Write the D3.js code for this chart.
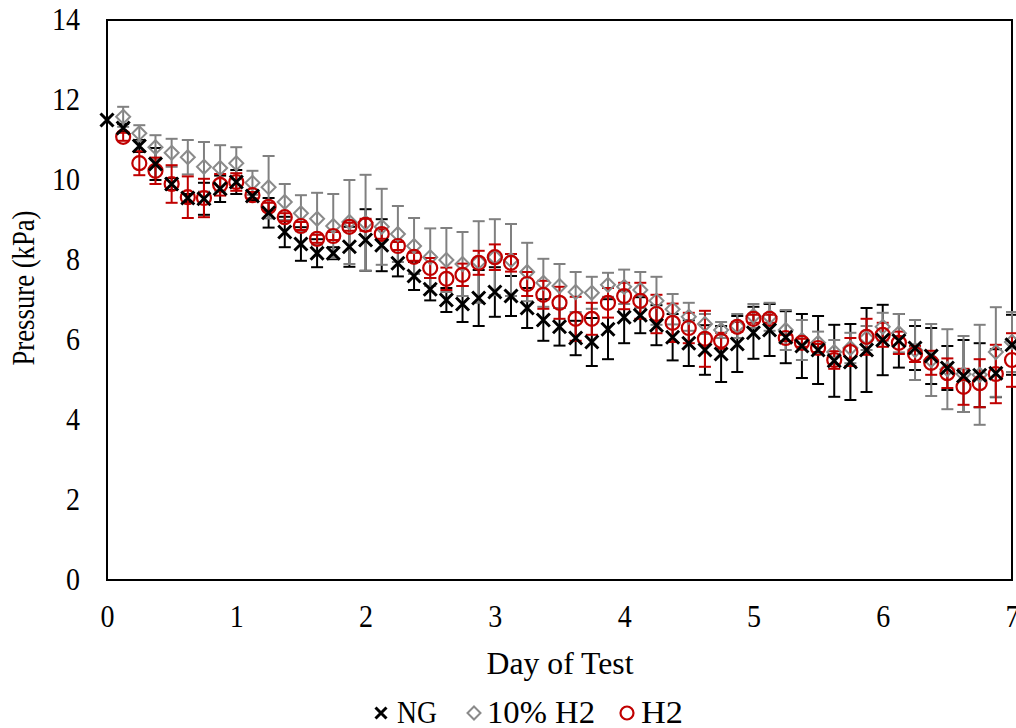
<!DOCTYPE html>
<html><head><meta charset="utf-8">
<script src="https://cdn.jsdelivr.net/npm/d3@7"></script>
<style>body{margin:0;background:#fff}svg{display:block}svg text{font-family:"Liberation Serif","Times New Roman","DejaVu Serif",serif !important;fill:#000}</style>
</head><body>
<svg id="chart" width="1016" height="728"></svg>
<script>
const days = [0,0.125,0.25,0.375,0.5,0.625,0.75,0.875,1,1.125,1.25,1.375,1.5,1.625,1.75,1.875,2,2.125,2.25,2.375,2.5,2.625,2.75,2.875,3,3.125,3.25,3.375,3.5,3.625,3.75,3.875,4,4.125,4.25,4.375,4.5,4.625,4.75,4.875,5,5.125,5.25,5.375,5.5,5.625,5.75,5.875,6,6.125,6.25,6.375,6.5,6.625,6.75,6.875,7];
const ngValues = [11.5,11.3,10.85,10.4,9.9,9.55,9.53,9.78,9.95,9.6,9.18,8.7,8.4,8.17,8.17,8.33,8.5,8.37,7.92,7.6,7.27,7.0,6.9,7.05,7.2,7.1,6.8,6.5,6.33,6.05,5.95,6.27,6.57,6.62,6.37,6.07,5.92,5.75,5.65,5.9,6.18,6.25,6.07,5.85,5.75,5.48,5.45,5.75,6.0,5.98,5.8,5.6,5.3,5.1,5.12,5.17,5.88];
const ngErr = [0,0.1,0.15,0.4,0.15,0.1,0.4,0.33,0.3,0.1,0.37,0.38,0.42,0.35,0.15,0.5,0.77,0.65,0.33,0.35,0.28,0.3,0.45,0.7,0.62,0.5,0.5,0.52,0.47,0.43,0.6,0.75,0.65,0.45,0.5,0.58,0.57,0.62,0.7,0.7,0.65,0.65,0.65,0.8,0.85,0.9,0.95,1.05,0.88,0.67,0.55,0.7,0.55,0.9,0.8,0.6,0.75];
const h10Values = [null,11.58,11.17,10.82,10.68,10.57,10.33,10.3,10.42,9.93,9.82,9.45,9.17,9.03,8.85,8.95,8.93,8.83,8.65,8.35,8.07,8.0,7.9,7.95,8.07,8.0,7.7,7.43,7.35,7.2,7.18,7.38,7.33,7.25,6.98,6.77,6.58,6.4,6.25,6.35,6.6,6.58,6.25,6.0,5.93,5.7,5.8,6.05,6.33,6.17,5.75,5.5,5.27,5.15,5.13,5.7,5.95];
const h10Err = [0,0.25,0.2,0.3,0.35,0.43,0.62,0.57,0.4,0.3,0.78,0.45,0.45,0.65,0.8,1.05,1.2,0.95,0.7,0.7,0.72,0.8,0.8,1.02,0.95,0.9,0.73,0.6,0.55,0.5,0.4,0.3,0.43,0.45,0.6,0.38,0.35,0.25,0.2,0.3,0.3,0.35,0.5,0.5,0.28,0.3,0.38,0.3,0.35,0.48,0.75,0.9,1.0,0.95,1.25,1.12,0.75];
const h2Values = [null,11.08,10.42,10.23,9.9,9.57,9.55,9.88,9.95,9.62,9.33,9.07,8.85,8.53,8.6,8.83,8.88,8.65,8.35,8.08,7.8,7.53,7.63,7.93,8.07,7.93,7.4,7.13,6.93,6.53,6.53,6.93,7.1,6.98,6.65,6.43,6.3,6.03,5.98,6.33,6.53,6.53,6.05,5.93,5.8,5.5,5.7,6.08,6.13,5.93,5.65,5.43,5.17,4.83,4.92,5.15,5.5];
const h2Err = [0,0.1,0.3,0.33,0.47,0.52,0.48,0.27,0.22,0.08,0.1,0.1,0.1,0.1,0.1,0.1,0.15,0.12,0.1,0.1,0.25,0.28,0.28,0.3,0.32,0.22,0.3,0.35,0.4,0.55,0.4,0.37,0.33,0.45,0.48,0.48,0.38,0.7,0.2,0.12,0.1,0.1,0.08,0.1,0.1,0.22,0.35,0.45,0.3,0.28,0.2,0.3,0.37,0.45,0.6,0.73,0.67];
const xTicks = [0,1,2,3,4,5,6,7];
const yTicks = [0,2,4,6,8,10,12,14];
const seriesNames = ["NG","10% H2","H2"];

const FONT = "'Liberation Serif','Times New Roman','DejaVu Serif',serif";
const svg = d3.select("#chart");
const L = 107, R = 1012, T = 20, B = 580;
const x = d3.scaleLinear().domain([0,7]).range([L,R]);
const y = d3.scaleLinear().domain([0,14]).range([B,T]);

const series = [
  {name: seriesNames[0], vals: ngValues, err: ngErr, color: "#000000", barColor: "#000000", shape: "x", legLen: 40},
  {name: seriesNames[1], vals: h10Values, err: h10Err, color: "#8a8a8a", barColor: "#808080", shape: "diamond", legLen: 108},
  {name: seriesNames[2], vals: h2Values, err: h2Err, color: "#c00000", barColor: "#c00000", shape: "circle", legLen: 42}
];

svg.append("rect").attr("x",L).attr("y",T).attr("width",R-L).attr("height",B-T)
  .attr("fill","none").attr("stroke","#000").attr("stroke-width",2);

const tickFs = 31;
const yAxis = d3.axisLeft(y).tickValues(yTicks).tickSize(0).tickPadding(27).tickFormat(d3.format("d"));
svg.append("g").attr("transform",`translate(${L},0)`).call(yAxis)
  .attr("font-family",FONT)
  .call(g=>g.select(".domain").remove())
  .selectAll("text").attr("font-family",FONT).style("font-size",tickFs+"px")
  .attr("textLength", d => String(d).length*14).attr("lengthAdjust","spacingAndGlyphs");
const xAxis = d3.axisBottom(x).tickValues(xTicks).tickSize(0).tickPadding(25).tickFormat(d3.format("d"));
svg.append("g").attr("transform",`translate(0,${B})`).call(xAxis)
  .attr("font-family",FONT)
  .call(g=>g.select(".domain").remove())
  .selectAll("text").attr("font-family",FONT).style("font-size",tickFs+"px")
  .attr("textLength", d => String(d).length*14).attr("lengthAdjust","spacingAndGlyphs");

svg.append("text").attr("x",560).attr("y",674).attr("text-anchor","middle").attr("font-family",FONT).style("font-size","32px")
  .attr("textLength",147).attr("lengthAdjust","spacingAndGlyphs").text("Day of Test");
svg.append("text").attr("transform","translate(34,288) rotate(-90)").attr("text-anchor","middle").attr("font-family",FONT).style("font-size","32px")
  .attr("textLength",155).attr("lengthAdjust","spacingAndGlyphs").text("Pressure (kPa)");

const capW = 6;
series.forEach(s => {
  const g = svg.append("g").attr("stroke", s.barColor).attr("stroke-width",2).attr("fill","none");
  days.forEach((d,i) => {
    const v = s.vals[i];
    if (v == null || !s.err[i]) return;
    const e = s.err[i];
    const cx = x(d), y1 = y(v+e), y2 = y(v-e);
    g.append("line").attr("x1",cx).attr("x2",cx).attr("y1",y1).attr("y2",y2);
    g.append("line").attr("x1",cx-capW).attr("x2",cx+capW).attr("y1",y1).attr("y2",y1);
    g.append("line").attr("x1",cx-capW).attr("x2",cx+capW).attr("y1",y2).attr("y2",y2);
  });
});

function drawMarker(g, shape, cx, cy, color, size) {
  if (shape === "x") {
    const h = size;
    g.append("path").attr("d",`M${cx-h},${cy-h}L${cx+h},${cy+h}M${cx-h},${cy+h}L${cx+h},${cy-h}`)
      .attr("stroke",color).attr("stroke-width",3).attr("fill","none");
  } else if (shape === "diamond") {
    const h = size;
    g.append("path").attr("d",`M${cx},${cy-h}L${cx+h},${cy}L${cx},${cy+h}L${cx-h},${cy}Z`)
      .attr("stroke",color).attr("stroke-width",2).attr("fill","none");
  } else {
    g.append("circle").attr("cx",cx).attr("cy",cy).attr("r",size)
      .attr("stroke",color).attr("stroke-width",2.2).attr("fill","none");
  }
}

[1,2,0].forEach(k => {
  const s = series[k];
  const g = svg.append("g");
  days.forEach((d,i) => {
    const v = s.vals[i];
    if (v == null) return;
    drawMarker(g, s.shape, x(d), y(v), s.color, s.shape === "x" ? 6.5 : 7);
  });
});

const leg = svg.append("g");
const legItems = [
  {s: series[0], mx: 381, tx: 397},
  {s: series[1], mx: 474, tx: 487},
  {s: series[2], mx: 627, tx: 641}
];
legItems.forEach(it => {
  drawMarker(leg, it.s.shape, it.mx, 713, it.s.color, it.s.shape === "x" ? 5.5 : 6.5);
  leg.append("text").attr("x",it.tx).attr("y",723).attr("font-family",FONT).style("font-size","31px")
    .attr("textLength",it.s.legLen).attr("lengthAdjust","spacingAndGlyphs").text(it.s.name);
});
</script>
</body></html>
